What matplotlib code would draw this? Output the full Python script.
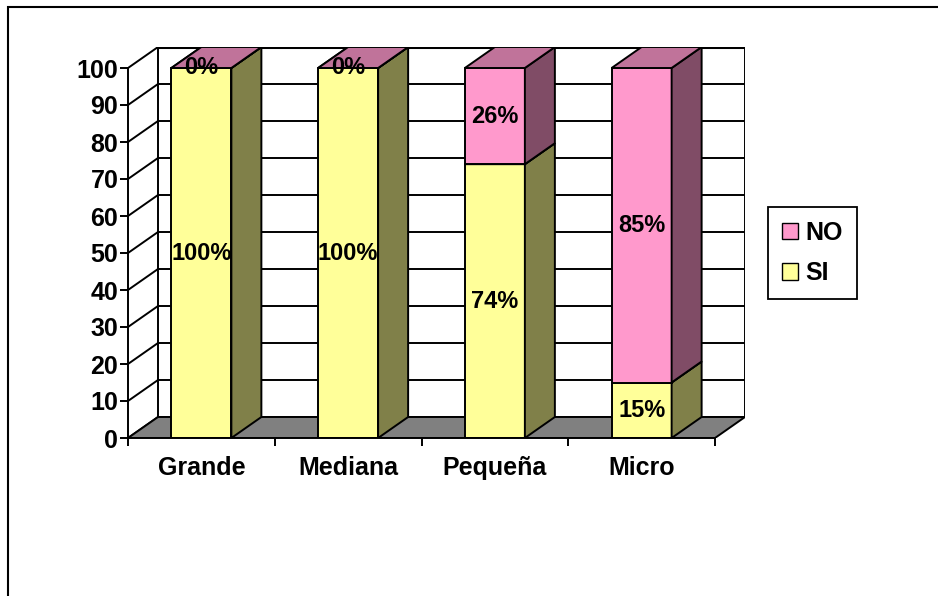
import numpy as np
import matplotlib.pyplot as plt
from matplotlib.patches import Polygon, Rectangle, Patch

plt.rcParams['font.family'] = ['Liberation Sans', 'DejaVu Sans']
plt.rcParams['font.weight'] = 'bold'

categories = ['Grande', 'Mediana', 'Pequeña', 'Micro']
si_vals = [100, 100, 74, 15]
no_vals = [0, 0, 26, 85]
series = [('SI', si_vals), ('NO', no_vals)]

colors = {
    'SI': ('#FFFF99', '#808049', '#BFBF73'),   # front, side, top
    'NO': ('#FF99CC', '#804C66', '#C0739A'),
}

W, H = 938, 596
fig = plt.figure(figsize=(W / 100, H / 100), dpi=100)

# plot area in pixels: front x 128..715, back wall up to 745, y 0 at 438, 100 at 68
px_left, px_right, px_bottom, px_top = 128, 745, 438, 47
ax = fig.add_axes([px_left / W, 1 - px_bottom / H,
                   (px_right - px_left) / W, (px_bottom - px_top) / H])

n = len(categories)
unit_x = (715 - 128) / n          # pixels per category
unit_y = (438 - 68) / 100         # pixels per value unit
dx = 30 / unit_x                  # depth offset in data units
dy = 21 / unit_y

ax.set_xlim(-0.5, n - 0.5 + dx)
ax.set_ylim(0, 100 + dy)

lw = 1.4
ticks = np.arange(0, 101, 10)

# back wall gridlines and left wall diagonals
for v in ticks:
    ax.plot([-0.5 + dx, n - 0.5 + dx], [v + dy, v + dy], color='black', lw=lw, zorder=1)
    ax.plot([-0.5, -0.5 + dx], [v, v + dy], color='black', lw=lw, zorder=1)
ax.plot([-0.5 + dx, -0.5 + dx], [dy, 100 + dy], color='black', lw=lw, zorder=1)
ax.plot([n - 0.5 + dx, n - 0.5 + dx], [dy, 100 + dy], color='black', lw=lw, zorder=1)
ax.plot([-0.5 + dx, n - 0.5 + dx], [100 + dy, 100 + dy], color='black', lw=2.2, zorder=1)

# floor
ax.add_patch(Polygon([(-0.5, 0), (-0.5 + dx, dy), (n - 0.5 + dx, dy), (n - 0.5, 0)],
                     closed=True, facecolor='#808080', edgecolor='black', lw=lw, zorder=2))

bw = 60 / unit_x
for i, cat in enumerate(categories):
    bottom = 0
    x0, x1 = i - bw / 2, i + bw / 2
    for name, vals in series:
        h = vals[i]
        front, side, top = colors[name]
        y0, y1 = bottom, bottom + h
        ax.add_patch(Polygon([(x0, y0), (x1, y0), (x1, y1), (x0, y1)],
                             facecolor=front, edgecolor='black', lw=lw, zorder=3))
        ax.add_patch(Polygon([(x1, y0), (x1 + dx, y0 + dy), (x1 + dx, y1 + dy), (x1, y1)],
                             facecolor=side, edgecolor='black', lw=lw, zorder=3))
        ax.add_patch(Polygon([(x0, y1), (x1, y1), (x1 + dx, y1 + dy), (x0 + dx, y1 + dy)],
                             facecolor=top, edgecolor='black', lw=lw, zorder=3))
        ax.text(i, y0 + h / 2, f'{h}%', ha='center', va='center',
                fontsize=17, fontweight='bold', zorder=5)
        bottom = y1

# axes
for s in ['top', 'right']:
    ax.spines[s].set_visible(False)
ax.spines['left'].set_bounds(0, 100)
ax.spines['bottom'].set_bounds(-0.5, n - 0.5)
ax.spines['left'].set_linewidth(lw)
ax.spines['bottom'].set_linewidth(lw)
ax.spines['left'].set_zorder(4)
ax.spines['bottom'].set_zorder(4)
ax.set_yticks(ticks)
ax.set_xticks(range(n))
ax.set_xticklabels(categories)
ax.set_xticks(np.arange(-0.5, n, 1), minor=True)
ax.tick_params(axis='y', length=6, width=lw, labelsize=18, pad=1)
ax.tick_params(axis='x', which='major', length=0, labelsize=18, pad=13)
ax.tick_params(axis='x', which='minor', length=6, width=lw)
for lab in ax.get_xticklabels() + ax.get_yticklabels():
    lab.set_fontweight('bold')
ax.patch.set_visible(False)

handles = [Patch(facecolor=colors['NO'][0], edgecolor='black', label='NO'),
           Patch(facecolor=colors['SI'][0], edgecolor='black', label='SI')]
leg = fig.legend(handles=handles, loc='upper left',
                 bbox_to_anchor=(768 / W, 1 - 207 / H), borderaxespad=0,
                 prop={'size': 18, 'weight': 'bold'},
                 handlelength=0.65, handleheight=0.65, handletextpad=0.3,
                 labelspacing=0.65, borderpad=0.55, fancybox=False,
                 edgecolor='black', framealpha=1)
leg.get_frame().set_linewidth(1.3)

# outer chart frame
fig.add_artist(Rectangle((8 / W, -0.1), 1.2, 1.1 - 7 / H, transform=fig.transFigure,
                         fill=False, edgecolor='black', lw=1.5))

fig.savefig('out.png', dpi=100)
